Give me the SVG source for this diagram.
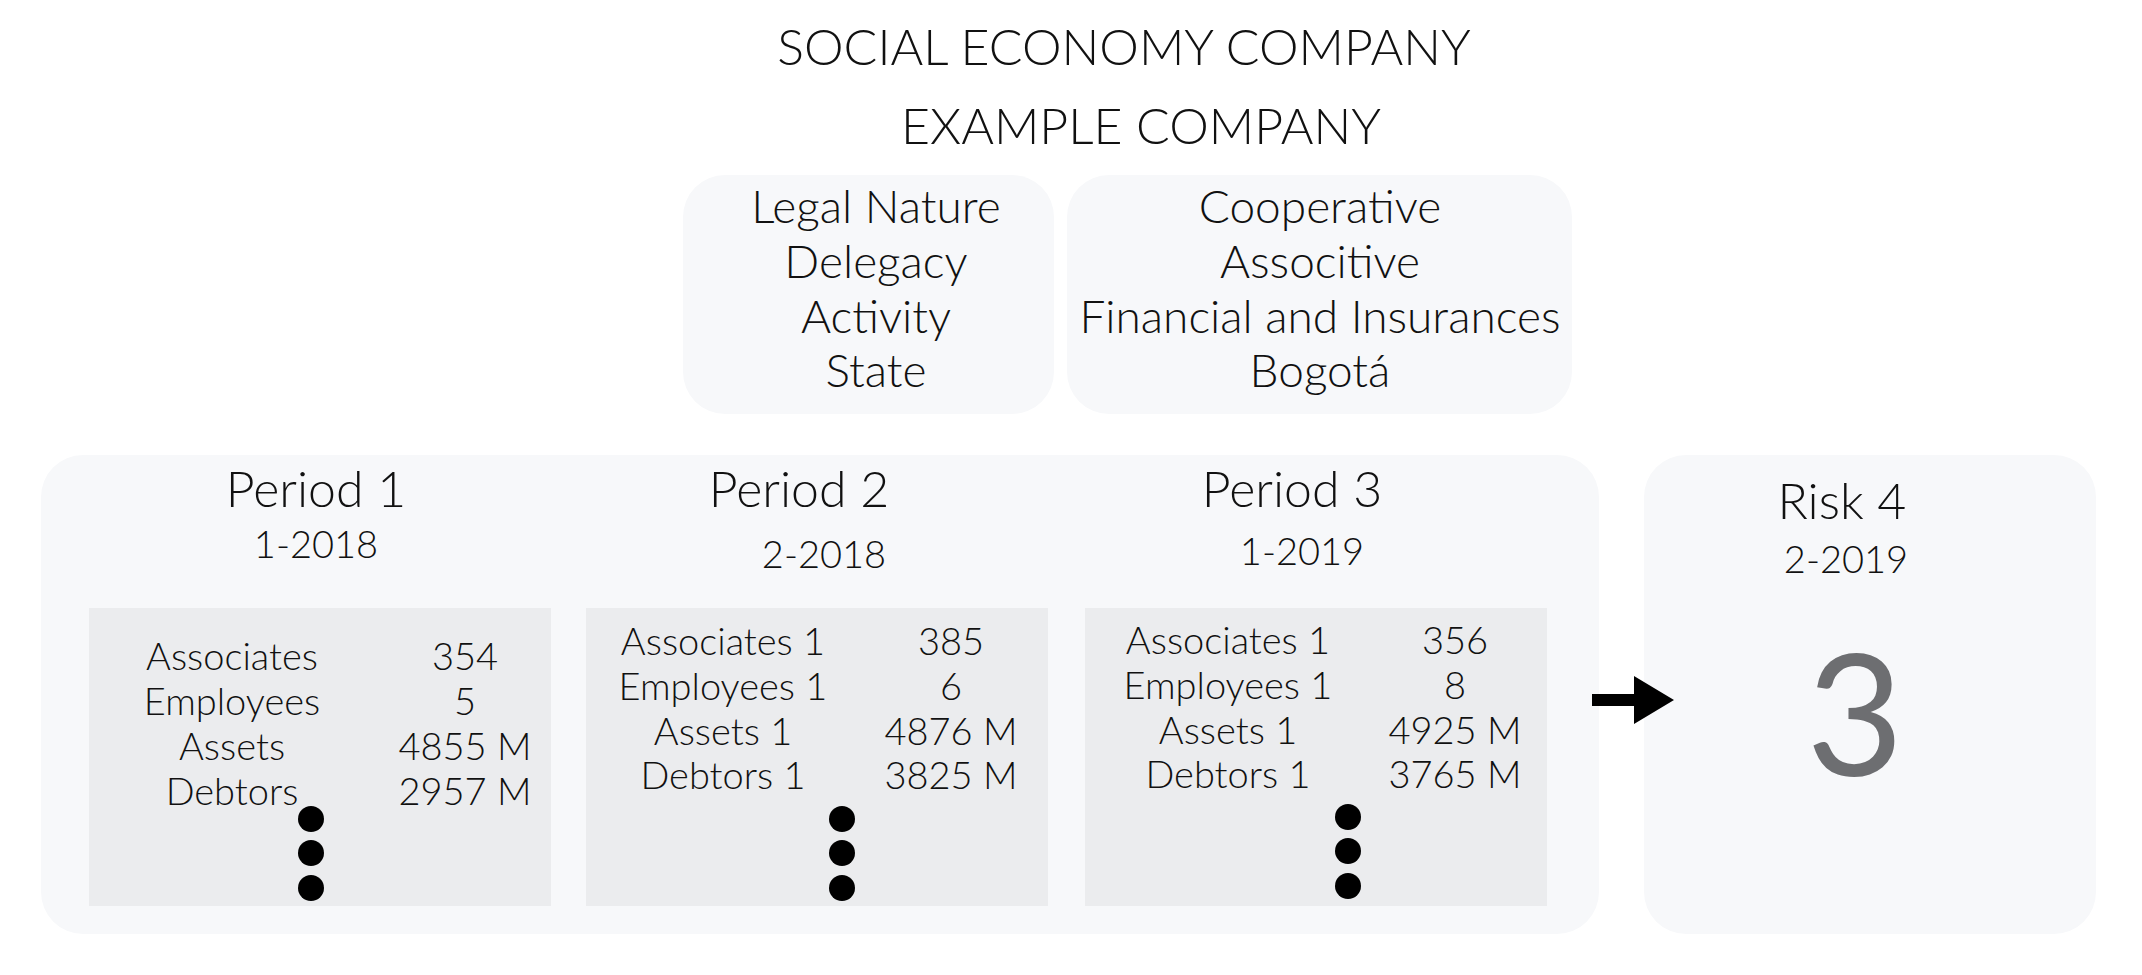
<svg xmlns="http://www.w3.org/2000/svg" width="2142" height="975" viewBox="0 0 2142 975">
<style>
text{font-family:"Lato Light",Lato,"Open Sans","Liberation Sans",sans-serif;font-weight:300;fill:#111;text-anchor:middle}
.title{font-size:50px}
.info{font-size:46px}
.ph{font-size:50px}
.pd{font-size:38px}
.row{font-size:38px}
.big{font-family:Lato,"Open Sans","Liberation Sans",sans-serif;font-size:168px;font-weight:400;fill:#6d6e71}
.panel{fill:#f7f8fa}
.inner{fill:#ebecee}
.dot{fill:#000}
</style>
<rect width="2142" height="975" fill="#fff"/>
<g id="title">
<text class="title" x="1124" y="65">SOCIAL ECONOMY COMPANY</text>
<text class="title" x="1141" y="144">EXAMPLE COMPANY</text>
</g>
<g id="info-labels">
<rect class="panel" x="683" y="175" width="371" height="239" rx="42"/>
<text class="info" x="876" y="223">Legal Nature</text>
<text class="info" x="876" y="278">Delegacy</text>
<text class="info" x="876" y="333">Activity</text>
<text class="info" x="876" y="387">State</text>
</g>
<g id="info-values">
<rect class="panel" x="1067" y="175" width="505" height="239" rx="42"/>
<text class="info" x="1320" y="223">Cooperative</text>
<text class="info" x="1320" y="278">Associtive</text>
<text class="info" x="1320" y="333">Financial and Insurances</text>
<text class="info" x="1320" y="387">Bogotá</text>
</g>
<g id="periods">
<rect class="panel" x="41" y="455" width="1558" height="479" rx="42"/>
</g>
<g id="period1">
<text class="ph" x="316" y="507">Period 1</text>
<text class="pd" x="316" y="558">1-2018</text>
<rect class="inner" x="89" y="608" width="462" height="298"/>
<text class="row" x="232" y="670">Associates</text><text class="row" x="465" y="670">354</text>
<text class="row" x="232" y="715">Employees</text><text class="row" x="465" y="715">5</text>
<text class="row" x="232" y="760">Assets</text><text class="row" x="465" y="760">4855 M</text>
<text class="row" x="232" y="805">Debtors</text><text class="row" x="465" y="805">2957 M</text>
<circle class="dot" cx="311" cy="819" r="13"/><circle class="dot" cx="311" cy="853" r="13"/><circle class="dot" cx="311" cy="888" r="13"/>
</g>
<g id="period2">
<text class="ph" x="799" y="507">Period 2</text>
<text class="pd" x="824" y="568">2-2018</text>
<rect class="inner" x="586" y="608" width="462" height="298"/>
<text class="row" x="723" y="655">Associates 1</text><text class="row" x="951" y="655">385</text>
<text class="row" x="723" y="700">Employees 1</text><text class="row" x="951" y="700">6</text>
<text class="row" x="723" y="745">Assets 1</text><text class="row" x="951" y="745">4876 M</text>
<text class="row" x="723" y="789">Debtors 1</text><text class="row" x="951" y="789">3825 M</text>
<circle class="dot" cx="842" cy="819" r="13"/><circle class="dot" cx="842" cy="853" r="13"/><circle class="dot" cx="842" cy="888" r="13"/>
</g>
<g id="period3">
<text class="ph" x="1292" y="507">Period 3</text>
<text class="pd" x="1302" y="565">1-2019</text>
<rect class="inner" x="1085" y="608" width="462" height="298"/>
<text class="row" x="1228" y="654">Associates 1</text><text class="row" x="1455" y="654">356</text>
<text class="row" x="1228" y="699">Employees 1</text><text class="row" x="1455" y="699">8</text>
<text class="row" x="1228" y="744">Assets 1</text><text class="row" x="1455" y="744">4925 M</text>
<text class="row" x="1228" y="788">Debtors 1</text><text class="row" x="1455" y="788">3765 M</text>
<circle class="dot" cx="1348" cy="817" r="13"/><circle class="dot" cx="1348" cy="851" r="13"/><circle class="dot" cx="1348" cy="886" r="13"/>
</g>
<g id="risk">
<rect class="panel" x="1644" y="455" width="452" height="479" rx="42"/>
<text class="ph" x="1842" y="519">Risk 4</text>
<text class="pd" x="1846" y="573">2-2019</text>
<text class="big" x="1855" y="776">3</text>
</g>
<g id="connectors">
<path d="M1592 694 H1634 V676 L1674 700 L1634 724 V706 H1592 Z" fill="#000"/>
</g>
</svg>
